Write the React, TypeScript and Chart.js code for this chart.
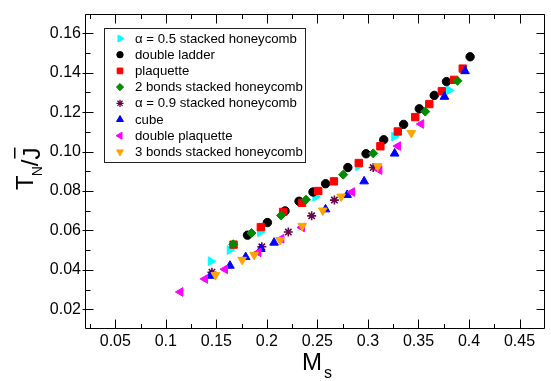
import React, { useEffect, useRef } from 'react';
import { Chart, registerables } from 'chart.js';
import { drawPoint } from 'chart.js/helpers';

Chart.register(...registerables);

const FONT = '"Liberation Sans", Arial, Helvetica, sans-serif';

// ---- data ----
const seriesLabels = [
  'α = 0.5 stacked honeycomb',
  'double ladder',
  'plaquette',
  '2 bonds stacked honeycomb',
  'α = 0.9 stacked honeycomb',
  'cube',
  'double plaquette',
  '3 bonds stacked honeycomb',
];

const alpha05X = [0.1445, 0.1632, 0.1933, 0.248, 0.2904, 0.326, 0.3804];
const alpha05Y = [0.0444, 0.05, 0.0591, 0.077, 0.0926, 0.1076, 0.1311];

const doubleLadderX = [0.1808, 0.2005, 0.218, 0.2318, 0.2456, 0.2581, 0.2801, 0.2981, 0.3156, 0.3353, 0.3508, 0.3656, 0.3777, 0.4011];
const doubleLadderY = [0.0576, 0.064, 0.0699, 0.0748, 0.0795, 0.0837, 0.0919, 0.0989, 0.106, 0.1138, 0.1217, 0.1285, 0.1355, 0.1481];

const plaquetteX = [0.167, 0.194, 0.216, 0.2347, 0.2508, 0.2663, 0.2909, 0.3123, 0.3295, 0.3468, 0.3607, 0.3731, 0.3853, 0.3938];
const plaquetteY = [0.0528, 0.0617, 0.0694, 0.074, 0.08, 0.0849, 0.0942, 0.1027, 0.1102, 0.1175, 0.1241, 0.1306, 0.1364, 0.1421];

const twoBondsX = [0.1667, 0.1847, 0.214, 0.2387, 0.2755, 0.3052, 0.3567, 0.3886];
const twoBondsY = [0.053, 0.0587, 0.0676, 0.0756, 0.0883, 0.0991, 0.1203, 0.1359];

const alpha09X = [0.1456, 0.195, 0.2212, 0.2443, 0.2668, 0.3052];
const alpha09Y = [0.0388, 0.0517, 0.0592, 0.0674, 0.0754, 0.0919];

const cubeX = [0.144, 0.1634, 0.179, 0.194, 0.2071, 0.258, 0.2794, 0.2962, 0.3264, 0.3757, 0.3961];
const cubeY = [0.037, 0.0421, 0.0465, 0.0506, 0.0538, 0.0707, 0.078, 0.0849, 0.099, 0.1278, 0.1408];

const doublePlaquetteX = [0.1144, 0.1388, 0.1585, 0.1916, 0.2143, 0.2347, 0.2843, 0.3113, 0.3297, 0.3527];
const doublePlaquetteY = [0.0288, 0.0354, 0.0403, 0.0489, 0.0558, 0.0615, 0.0795, 0.0906, 0.1028, 0.114];

const threeBondsX = [0.149, 0.1755, 0.1874, 0.213, 0.235, 0.2553, 0.2735, 0.3097, 0.3429];
const threeBondsY = [0.0374, 0.0451, 0.0476, 0.0551, 0.0623, 0.0701, 0.0772, 0.0926, 0.1094];

const xTicks = [0.05, 0.1, 0.15, 0.2, 0.25, 0.3, 0.35, 0.4, 0.45];
const xTickLabels = ['0.05', '0.1', '0.15', '0.2', '0.25', '0.3', '0.35', '0.4', '0.45'];
const xMinorTicks = [0.025, 0.075, 0.125, 0.175, 0.225, 0.275, 0.325, 0.375, 0.425, 0.475];
const yTicks = [0.02, 0.04, 0.06, 0.08, 0.1, 0.12, 0.14, 0.16];
const yTickLabels = ['0.02', '0.04', '0.06', '0.08', '0.10', '0.12', '0.14', '0.16'];
const yMinorTicks = [0.01, 0.03, 0.05, 0.07, 0.09, 0.11, 0.13, 0.15, 0.17];

// ---- styles ----
const seriesStyles = [
  { color: '#00FFFF', pointStyle: 'triangle', rotation: 90, radius: 5, legendRadius: 4 },
  { color: '#000000', pointStyle: 'circle', rotation: 0, radius: 4.2, legendRadius: 3.2 },
  { color: '#FF0000', pointStyle: 'rect', rotation: 0, radius: 5.2, legendRadius: 4 },
  { color: '#008B00', pointStyle: 'rectRot', rotation: 0, radius: 4.5, legendRadius: 3.6 },
  { color: '#670748', pointStyle: 'star', rotation: 0, radius: 4.5, legendRadius: 3.6 },
  { color: '#0000FF', pointStyle: 'triangle', rotation: 0, radius: 5, legendRadius: 4 },
  { color: '#FF00FF', pointStyle: 'triangle', rotation: -90, radius: 5, legendRadius: 4 },
  { color: '#FFA500', pointStyle: 'triangle', rotation: 180, radius: 5, legendRadius: 4 },
];

const seriesData = [
  [alpha05X, alpha05Y],
  [doubleLadderX, doubleLadderY],
  [plaquetteX, plaquetteY],
  [twoBondsX, twoBondsY],
  [alpha09X, alpha09Y],
  [cubeX, cubeY],
  [doublePlaquetteX, doublePlaquetteY],
  [threeBondsX, threeBondsY],
];

const framePlugin = {
  id: 'frameTicks',
  beforeDatasetsDraw(chart: any) {
    const { ctx, chartArea, scales } = chart;
    const { left, right, top, bottom } = chartArea;
    const xs = scales.x;
    const ys = scales.y;
    ctx.save();
    ctx.strokeStyle = '#000';
    ctx.lineWidth = 1;
    ctx.beginPath();
    const L = Math.round(left) + 0.5;
    const R = Math.round(right) - 0.5;
    const T = Math.round(top) + 0.5;
    const B = Math.round(bottom) - 0.5;
    ctx.rect(L, T, R - L, B - T);
    const tick = (vals: number[], len: number) => {
      vals.forEach((v) => {
        const px = Math.round(xs.getPixelForValue(v)) + 0.5;
        if (px < L || px > R) return;
        ctx.moveTo(px, B);
        ctx.lineTo(px, B - len);
        ctx.moveTo(px, T);
        ctx.lineTo(px, T + len);
      });
    };
    const ytick = (vals: number[], len: number, outLeft: number) => {
      vals.forEach((v) => {
        const py = Math.round(ys.getPixelForValue(v)) + 0.5;
        if (py < T || py > B) return;
        ctx.moveTo(L - outLeft, py);
        ctx.lineTo(L + len, py);
        ctx.moveTo(R, py);
        ctx.lineTo(R - len, py);
      });
    };
    tick(xTicks, 9);
    tick(xMinorTicks, 4.5);
    ytick(yTicks, 8, 3);
    ytick(yMinorTicks, 5, 0);
    ctx.stroke();
    ctx.restore();
  },
  afterDraw(chart: any) {
    const { ctx } = chart;
    ctx.save();
    // legend box
    const bx = 104, by = 28, bw = 201, bh = 134;
    ctx.fillStyle = '#fff';
    ctx.fillRect(bx, by, bw, bh);
    ctx.strokeStyle = '#222';
    ctx.lineWidth = 1;
    ctx.strokeRect(bx + 0.5, by + 0.5, bw, bh);
    ctx.font = `13.2px ${FONT}`;
    ctx.textBaseline = 'middle';
    ctx.textAlign = 'left';
    seriesLabels.forEach((label, i) => {
      const st = seriesStyles[i];
      const yy = 38.5 + i * 16.2;
      ctx.fillStyle = st.color;
      ctx.strokeStyle = st.color;
      ctx.lineWidth = st.pointStyle === 'star' ? 1.3 : 1;
      drawPoint(ctx, { pointStyle: st.pointStyle, rotation: st.rotation, radius: st.legendRadius, borderWidth: 1 }, 120, yy);
      ctx.fillStyle = '#000';
      ctx.fillText(label, 135, yy + 0.5);
    });

    // x title: M_s
    ctx.fillStyle = '#000';
    ctx.textBaseline = 'alphabetic';
    ctx.font = `24px ${FONT}`;
    ctx.fillText('M', 302, 370);
    ctx.font = `16px ${FONT}`;
    ctx.fillText('s', 324, 378);

    // y title: T_N / J-bar (rotated)
    ctx.translate(33, 190);
    ctx.rotate(-Math.PI / 2);
    ctx.font = `24px ${FONT}`;
    ctx.fillText('T', 0, 0);
    let x = ctx.measureText('T').width;
    ctx.font = `14px ${FONT}`;
    ctx.fillText('N', x - 1, 9);
    x += ctx.measureText('N').width - 1;
    ctx.font = `24px ${FONT}`;
    ctx.fillText('/', x, 5);
    x += ctx.measureText('/').width;
    ctx.fillText('J', x, 7);
    const jw = ctx.measureText('J').width;
    ctx.fillRect(x + 1, -19, jw - 1, 1.5);
    ctx.restore();
  },
};

export default function App() {
  const canvasRef = useRef<HTMLCanvasElement | null>(null);

  useEffect(() => {
    document.body.style.margin = '0';
    const canvas = canvasRef.current;
    if (!canvas) return;
    const datasets = seriesData.map(([xs, ys], i) => {
      const st = seriesStyles[i];
      return {
        label: seriesLabels[i],
        data: xs.map((x, k) => ({ x, y: ys[k] })),
        pointStyle: st.pointStyle,
        rotation: st.rotation,
        pointRadius: st.radius,
        pointHoverRadius: st.radius,
        backgroundColor: st.color,
        borderColor: st.color,
        borderWidth: st.pointStyle === 'star' ? 1.6 : 1,
        showLine: false,
        order: seriesLabels.length - i,
      };
    });
    const chart = new Chart(canvas, {
      type: 'scatter',
      data: { datasets },
      options: {
        animation: false,
        responsive: false,
        devicePixelRatio: 1,
        layout: { padding: { left: 0, right: 6, top: 4, bottom: 0 } },
        plugins: { legend: { display: false }, tooltip: { enabled: false }, title: { display: false } },
        scales: {
          x: {
            type: 'linear',
            min: 0.02,
            max: 0.475,
            grid: { display: false, drawTicks: false },
            border: { display: false },
            afterBuildTicks: (s: any) => {
              s.ticks = xTicks.map((v) => ({ value: v }));
            },
            afterFit: (s: any) => {
              s.height = 52;
            },
            ticks: {
              autoSkip: false,
              maxRotation: 0,
              padding: 3,
              color: '#000',
              font: { family: FONT, size: 16 },
              callback: (_v: any, i: number) => xTickLabels[i],
            },
          },
          y: {
            type: 'linear',
            min: 0.01,
            max: 0.17,
            grid: { display: false, drawTicks: false },
            border: { display: false },
            afterBuildTicks: (s: any) => {
              s.ticks = yTicks.map((v) => ({ value: v }));
            },
            afterFit: (s: any) => {
              s.width = 85;
            },
            ticks: {
              autoSkip: false,
              padding: 4,
              color: '#000',
              font: { family: FONT, size: 16 },
              callback: (_v: any, i: number) => yTickLabels[i],
            },
          },
        },
      },
      plugins: [framePlugin],
    } as any);
    return () => chart.destroy();
  }, []);

  return (
    <div style={{ position: 'absolute', left: 0, top: 0, width: 551, height: 381, background: '#fff' }}>
      <canvas ref={canvasRef} width={551} height={381} style={{ display: 'block', width: 551, height: 381 }} />
    </div>
  );
}
